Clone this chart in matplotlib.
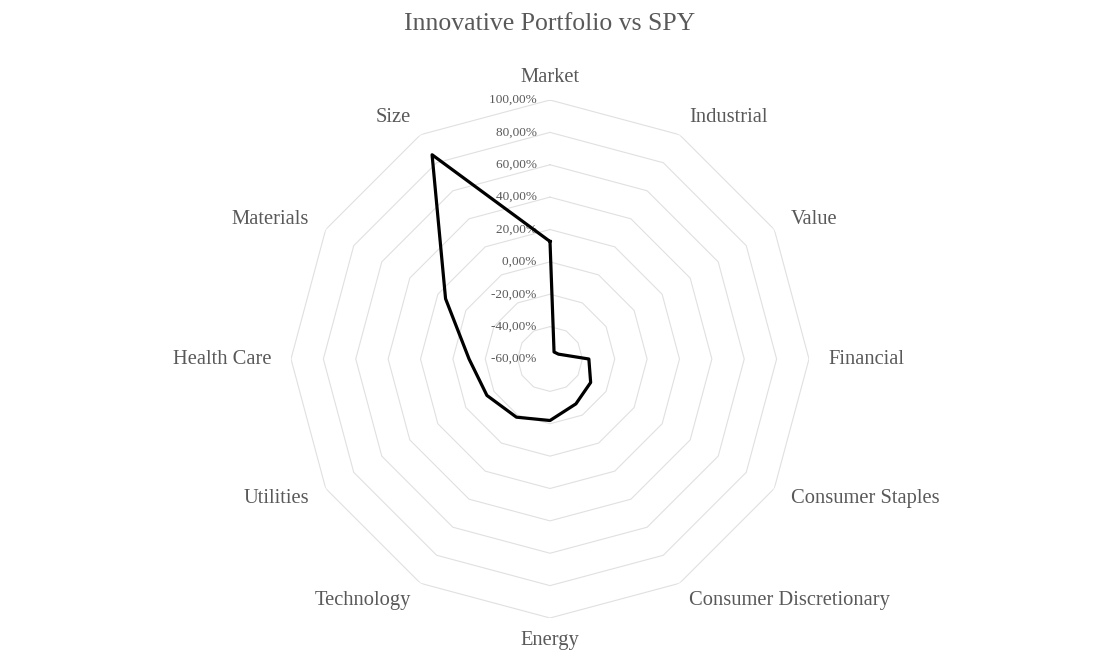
import numpy as np
import matplotlib
matplotlib.use("Agg")
import matplotlib.pyplot as plt

categories = ["Market", "Industrial", "Value", "Financial", "Consumer Staples",
              "Consumer Discretionary", "Energy", "Technology", "Utilities",
              "Health Care", "Materials", "Size"]
values = [12.6, -55, -54, -36, -31, -28, -22, -18.5, -15, -10, 14.5, 85.7]
ring_levels = [-60, -40, -20, 0, 20, 40, 60, 80, 100]

plt.rcParams['font.family'] = ['Liberation Serif', 'DejaVu Serif']
grey = '#595959'
fig = plt.figure(figsize=(10.99, 6.72), dpi=100)
ax = fig.add_axes([291/1099, 54/672, 518/1099, 518/672], projection='polar')
ax.set_theta_offset(np.pi/2)
ax.set_theta_direction(-1)
ax.set_ylim(-60, 100)
ax.grid(False)
ax.spines['polar'].set_visible(False)
ax.set_xticks([]); ax.set_yticks([])

n = len(categories)
th = np.arange(n) * 2*np.pi/n
thc = np.append(th, th[0])
for lv in ring_levels[1:]:
    ax.plot(thc, [lv]*(n+1), color='#e0e0e0', lw=0.8, zorder=1)

v = np.append(values, values[0])
ax.plot(thc, v, color='black', lw=2.3, zorder=3)

for lv in ring_levels:
    ax.text(0, lv, f"{lv:.2f}%".replace('.', ',') + "    ", ha='right', va='center',
            fontsize=9.5, color=grey, zorder=2)

for t, c in zip(th, categories):
    s = np.sin(t)
    if abs(s) < 0.01:
        ha, r = 'center', 114
    else:
        ha, r = ('left' if s > 0 else 'right'), 112
    ax.text(t, r, c, ha=ha, va='center', fontsize=14.8, color=grey)

fig.text(0.5, 0.965, "Innovative Portfolio vs SPY", ha='center', va='center',
         fontsize=18.5, color=grey)
fig.savefig("out.png", dpi=100)
